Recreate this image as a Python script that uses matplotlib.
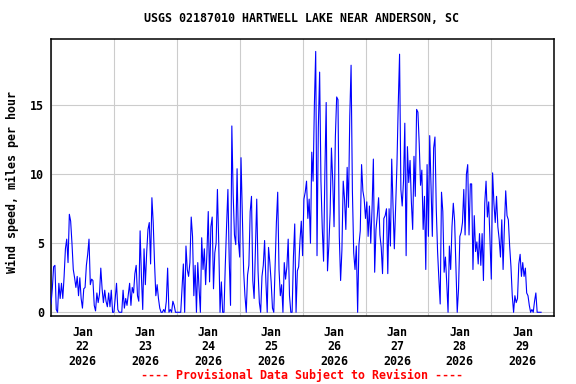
import numpy as np
import pandas as pd
import matplotlib
matplotlib.use("Agg")
import matplotlib.pyplot as plt
import matplotlib.dates as mdates
from matplotlib.ticker import NullFormatter

# Half-hourly wind speed (mph)
jan22 = [0.6, 1.7, 3.3, 3.4, 0.2, 0, 2.1, 1.0, 2.1, 1.0, 2.6, 4.6, 5.3, 3.6, 7.1, 6.6,
         5.0, 3.1, 2.5, 1.8, 2.6, 1.2, 2.5, 1.0, 0.3, 1.7, 1.8, 3.4, 4.2, 5.3, 2.0, 2.4,
         2.3, 0.5, 0.1, 1.4, 0.7, 1.3, 3.2, 1.7, 0.7, 1.6, 0.8, 0.4, 1.4, 0.4, 1.6, 0]
jan23 = [0, 1.0, 2.1, 0.2, 0, 0, 0, 1.6, 0.3, 1.0, 0.5, 1.3, 2.1, 0.5, 1.8, 1.4,
         2.8, 3.4, 1.2, 0.8, 5.9, 2.6, 0.2, 4.6, 2.0, 4.3, 6.0, 6.5, 3.5, 8.3, 6.5, 3.6,
         1.2, 2.0, 1.0, 0.3, 0, 0, 0.2, 0, 0.8, 3.2, 0, 0.2, 0, 0.8, 0.5, 0]
jan24 = [0, 0, 0, 0, 1.7, 3.5, 0, 4.8, 3.1, 2.6, 3.6, 6.9, 5.5, 1.2, 3.4, 0,
         3.6, 1.7, 0, 5.4, 3.1, 4.6, 2.0, 4.3, 7.3, 2.2, 6.2, 6.9, 1.7, 4.3, 5.0, 8.9,
         5.0, 0, 2.2, 0, 0, 3.4, 6.3, 8.9, 3.8, 0.5, 13.5, 8.6, 5.6, 4.9, 10.4, 5.2]
jan25 = [4.0, 11.2, 7.2, 3.0, 1.2, 0, 2.7, 3.4, 7.3, 8.4, 2.3, 1.0, 4.6, 8.2, 3.0, 0.7,
         0, 2.6, 3.4, 5.2, 2.2, 0, 4.7, 3.6, 2.2, 0.3, 0, 3.3, 6.5, 8.7, 3.1, 1.2,
         2.0, 0, 3.6, 2.4, 3.3, 5.3, 1.2, 0, 0, 4.0, 6.4, 0, 3.0, 3.3, 5.2, 6.6]
jan26 = [4.1, 8.2, 8.7, 9.5, 6.8, 8.2, 5.0, 11.6, 9.5, 15.1, 18.9, 4.1, 13.4, 17.4, 9.5, 6.1,
         3.7, 10.1, 15.2, 3.0, 4.8, 7.2, 11.9, 9.5, 6.2, 12.7, 15.6, 15.4, 5.5, 2.3, 4.5, 9.5,
         8.2, 6.0, 10.5, 7.6, 14.2, 17.9, 8.8, 4.3, 3.1, 4.8, 0, 4.9, 5.9, 10.7, 8.8, 8.2]
jan27 = [6.8, 8.0, 5.5, 7.7, 5.0, 7.5, 11.1, 2.9, 6.0, 7.0, 8.3, 5.6, 4.7, 2.8, 6.8, 7.0,
         7.5, 2.8, 7.5, 4.8, 11.1, 7.7, 4.6, 7.7, 10.7, 15.1, 18.7, 8.9, 7.7, 9.5, 13.7, 4.1,
         12.0, 9.4, 11.0, 8.0, 6.0, 11.3, 8.4, 14.7, 14.5, 12.2, 9.2, 10.3, 6.0, 8.4, 3.1, 10.7]
jan28 = [5.5, 12.8, 9.1, 5.5, 11.9, 12.7, 7.5, 4.4, 2.4, 0.6, 8.7, 7.3, 2.9, 4.0, 2.1, 0,
         4.8, 3.1, 6.2, 7.9, 6.6, 3.2, 0, 1.7, 5.5, 5.8, 6.5, 8.9, 5.6, 10.0, 10.7, 5.6,
         9.3, 9.3, 3.1, 7.0, 4.4, 5.1, 3.5, 5.7, 3.4, 5.7, 2.3, 7.9, 9.5, 6.9, 8.0, 5.2]
jan29 = [2.4, 10.1, 7.9, 6.5, 8.4, 6.2, 5.3, 4.0, 6.7, 3.1, 6.2, 8.8, 7.0, 6.7, 4.8, 3.3,
         1.2, 0, 1.2, 0.7, 1.0, 3.5, 4.2, 2.6, 3.6, 2.6, 3.2, 1.4, 1.2, 0.5, 0, 0.2,
         0, 0.8, 1.4, 0, 0, 0, 0]

y_ticks = [0, 5, 10, 15]
title = "USGS 02187010 HARTWELL LAKE NEAR ANDERSON, SC"
ylabel = "Wind speed, miles per hour"
footer = "---- Provisional Data Subject to Revision ----"

values = np.array(jan22 + jan23 + jan24 + jan25 + jan26 + jan27 + jan28 + jan29)
times = pd.date_range("2026-01-22 00:00", periods=len(values), freq="30min")

FONT = "DejaVu Sans Mono"
FS = 8.4

fig = plt.figure(figsize=(5.76, 3.84), dpi=100)
ax = fig.add_axes([51 / 576, 1 - 316 / 384, (554.2 - 51) / 576, (316 - 39) / 384])
ax.plot(times, values, color="#0000ff", lw=0.8, zorder=3)

ax.set_xlim(pd.Timestamp("2026-01-22"), pd.Timestamp("2026-01-30"))
ax.set_ylim(-0.27, 19.8)
ax.set_yticks(y_ticks)
ax.set_yticklabels([str(v) for v in y_ticks], fontfamily=FONT, fontweight="bold", fontsize=FS)

ax.xaxis.set_major_locator(mdates.DayLocator())
ax.xaxis.set_major_formatter(NullFormatter())
ax.xaxis.set_minor_locator(mdates.HourLocator(byhour=12))
ax.xaxis.set_minor_formatter(mdates.DateFormatter("%b\n%d\n%Y"))
ax.tick_params(axis="x", which="minor", length=0, pad=7, labelsize=FS)
ax.tick_params(axis="x", which="major", length=0)
ax.tick_params(axis="y", length=0, pad=5)

ax.grid(True, which="major", color="#cccccc", lw=0.8, zorder=0)
for s in ax.spines.values():
    s.set_linewidth(1.1)
    s.set_color("black")

fig.canvas.draw()
for lab in ax.get_xticklabels(minor=True):
    lab.set_fontfamily(FONT)
    lab.set_fontweight("bold")
    lab.set_fontsize(FS)
    lab.set_linespacing(1.15)

fig.text(302 / 576, 1 - 19 / 384, title, ha="center", va="center",
         fontfamily=FONT, fontweight="bold", fontsize=FS)
fig.text(12 / 576, 1 - 182 / 384, ylabel, ha="center", va="center", rotation=90,
         fontfamily=FONT, fontweight="bold", fontsize=FS)
fig.text(302 / 576, 1 - 375 / 384, footer, ha="center", va="center", color="red",
         fontfamily=FONT, fontweight="bold", fontsize=FS)

fig.savefig("out.png", dpi=100)
